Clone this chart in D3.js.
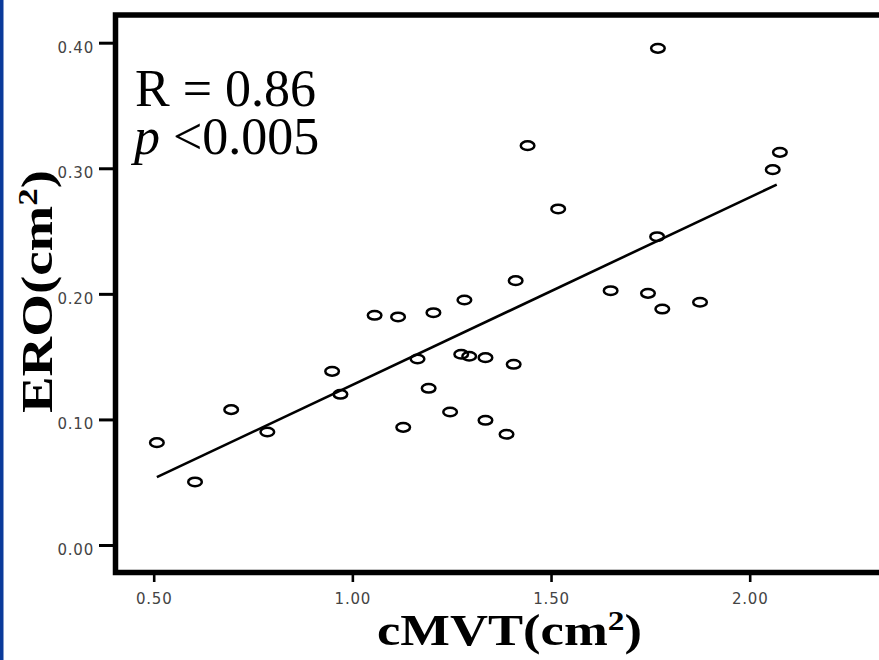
<!DOCTYPE html>
<html lang="en">
<head>
    <meta charset="UTF-8">
    <title>ERO vs cMVT</title>
    <script src="https://d3js.org/d3.v7.min.js"></script>
    <style>
        body { margin: 0; background: #fff; }
        svg { display: block; }
        .tick text { font-family: 'DejaVu Sans', sans-serif; font-size: 15px; fill: #444; letter-spacing: 0.8px; }
    </style>
</head>
<body>
    <div id="chart"></div>

    <script>
        // values
        const cmvt = [0.508, 0.604, 0.695, 0.786, 0.949, 0.970, 1.056, 1.115, 1.128, 1.164, 1.192,
                      1.204, 1.246, 1.274, 1.282, 1.294, 1.335, 1.335, 1.388, 1.406, 1.411, 1.441,
                      1.518, 1.650, 1.744, 1.780, 1.875, 1.767, 1.769, 2.058, 2.076];
        const ero  = [0.0815, 0.0502, 0.1078, 0.0900, 0.1383, 0.1200, 0.1829, 0.1816, 0.0937, 0.1481, 0.1248,
                      0.1850, 0.1059, 0.1519, 0.1951, 0.1503, 0.1492, 0.0993, 0.0882, 0.1439, 0.2105, 0.3180,
                      0.2676, 0.2025, 0.2004, 0.1879, 0.1933, 0.2455, 0.3955, 0.2989, 0.3127];

        // fitted line end points
        const fitX = [0.508, 2.068];
        const fitY = [0.054, 0.287];

        const xTicks = [0.5, 1.0, 1.5, 2.0];
        const yTicks = [0.0, 0.1, 0.2, 0.3, 0.4];

        const width = 879, height = 660;

        const svg = d3.select("#chart").append("svg")
            .attr("width", width)
            .attr("height", height);

        // blue strip on the left edge
        svg.append("rect")
            .attr("x", 0).attr("y", 0)
            .attr("width", 3.5).attr("height", height)
            .attr("fill", "#0a3a9a");

        const x = d3.scaleLinear().domain([0.5, 2.0]).range([153.7, 749.7]);
        const y = d3.scaleLinear().domain([0, 0.4]).range([545, 42.7]);

        // frame (right side runs off the picture)
        const fl = 115.5, ft = 15, fb = 572.5;
        svg.append("path")
            .attr("d", `M${width + 10},${ft} L${fl},${ft} L${fl},${fb} L${width + 10},${fb}`)
            .attr("fill", "none")
            .attr("stroke", "#000")
            .attr("stroke-width", 5.5);

        // axes
        const yAxis = svg.append("g")
            .attr("transform", "translate(113,0)")
            .call(d3.axisLeft(y).tickValues(yTicks).tickFormat(d3.format(".2f")).tickSize(14).tickPadding(5));
        yAxis.select(".domain").remove();
        yAxis.selectAll(".tick line").attr("stroke", "#000").attr("stroke-width", 3);
        yAxis.selectAll(".tick text").attr("dy", "0.62em");

        const xAxis = svg.append("g")
            .attr("transform", "translate(0,575)")
            .call(d3.axisBottom(x).tickValues(xTicks).tickFormat(d3.format(".2f")).tickSize(7).tickPadding(11));
        xAxis.select(".domain").remove();
        xAxis.selectAll(".tick line").attr("stroke", "#000").attr("stroke-width", 2.6);

        // regression line
        const line = d3.line().x(d => x(d[0])).y(d => y(d[1]));
        svg.append("path")
            .datum(d3.zip(fitX, fitY))
            .attr("d", line)
            .attr("fill", "none")
            .attr("stroke", "#000")
            .attr("stroke-width", 2.6);

        // points
        svg.append("g").selectAll("ellipse")
            .data(d3.zip(cmvt, ero))
            .join("ellipse")
            .attr("cx", d => x(d[0]))
            .attr("cy", d => y(d[1]))
            .attr("rx", 6.8)
            .attr("ry", 4.3)
            .attr("fill", "none")
            .attr("stroke", "#000")
            .attr("stroke-width", 2.5);

        // annotation
        const note = svg.append("g")
            .style("font-family", "'Liberation Serif', 'Times New Roman', serif")
            .style("font-size", "52px")
            .attr("fill", "#000");
        note.append("text").attr("x", 135).attr("y", 106).text("R = 0.86");
        const p = note.append("text").attr("x", 134).attr("y", 154);
        p.append("tspan").style("font-style", "italic").text("p");
        p.append("tspan").text(" <0.005");

        // axis titles
        function title(sel, main) {
            sel.style("font-family", "'Liberation Serif', 'Times New Roman', serif")
                .style("font-weight", "bold")
                .style("font-size", "44px")
                .attr("fill", "#000");
            sel.append("tspan").text(main + "(cm");
            sel.append("tspan").attr("dy", -15).style("font-size", "28px").text("2");
            sel.append("tspan").attr("dy", 15).text(")");
        }

        const xt = svg.append("text")
            .attr("x", 377).attr("y", 645)
            .attr("textLength", 265).attr("lengthAdjust", "spacingAndGlyphs");
        title(xt, "cMVT");

        const yt = svg.append("text")
            .attr("transform", "translate(52,413) rotate(-90)")
            .attr("textLength", 243).attr("lengthAdjust", "spacingAndGlyphs");
        title(yt, "ERO");
    </script>
</body>
</html>
